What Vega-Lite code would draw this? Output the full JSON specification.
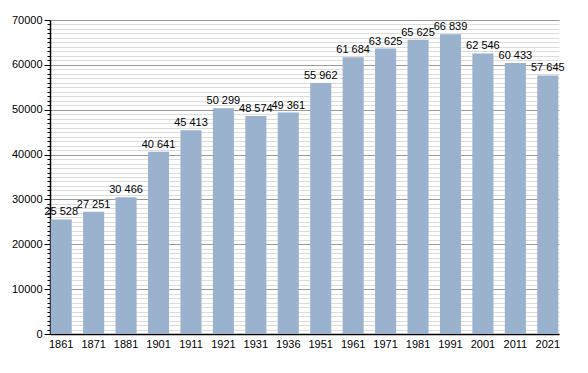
{
  "$schema": "https://vega.github.io/schema/vega-lite/v6.json",
  "width": 509,
  "height": 314,
  "autosize": "none",
  "padding": {"left": 50, "top": 20, "right": 29, "bottom": 39},
  "background": "white",
  "config": {
    "view": {"stroke": null},
    "font": "Liberation Sans",
    "axis": {"labelFont": "Liberation Sans", "labelFontSize": 11, "labelColor": "#000", "domainColor": "#000", "tickColor": "#000"}
  },
  "data": {
    "values": [
      {"year": "1861", "pop": 25528},
      {"year": "1871", "pop": 27251},
      {"year": "1881", "pop": 30466},
      {"year": "1901", "pop": 40641},
      {"year": "1911", "pop": 45413},
      {"year": "1921", "pop": 50299},
      {"year": "1931", "pop": 48574},
      {"year": "1936", "pop": 49361},
      {"year": "1951", "pop": 55962},
      {"year": "1961", "pop": 61684},
      {"year": "1971", "pop": 63625},
      {"year": "1981", "pop": 65625},
      {"year": "1991", "pop": 66839},
      {"year": "2001", "pop": 62546},
      {"year": "2011", "pop": 60433},
      {"year": "2021", "pop": 57645}
    ]
  },
  "transform": [
    {"calculate": "replace(format(datum.pop, ','), ',', ' ')", "as": "label"}
  ],
  "encoding": {
    "x": {
      "field": "year", "type": "ordinal", "sort": null,
      "scale": {"paddingInner": 0.35, "paddingOuter": 0.02},
      "axis": {"title": null, "labelAngle": 0, "ticks": false, "labelPadding": 4, "domainWidth": 1.5}
    }
  },
  "layer": [
    {
      "mark": {"type": "bar", "color": "#9ab2ce"},
      "encoding": {
        "y": {
          "field": "pop", "type": "quantitative",
          "scale": {"domain": [0, 70000], "nice": false},
          "axis": {
            "title": null, "orient": "left",
            "values": [1000,2000,3000,4000,5000,6000,7000,8000,9000,11000,12000,13000,14000,15000,16000,17000,18000,19000,21000,22000,23000,24000,25000,26000,27000,28000,29000,31000,32000,33000,34000,35000,36000,37000,38000,39000,41000,42000,43000,44000,45000,46000,47000,48000,49000,51000,52000,53000,54000,55000,56000,57000,58000,59000,61000,62000,63000,64000,65000,66000,67000,68000,69000],
            "labels": false, "domain": false,
            "grid": true, "gridColor": "#dcdcdc", "gridWidth": 1,
            "tickSize": 3, "tickWidth": 1
          }
        }
      }
    },
    {
      "mark": {"type": "text", "dy": -7, "fontSize": 11, "font": "Liberation Sans", "color": "#000"},
      "encoding": {
        "y": {
          "field": "pop", "type": "quantitative",
          "axis": {
            "title": null, "orient": "left",
            "values": [0,10000,20000,30000,40000,50000,60000,70000],
            "format": "d",
            "grid": true, "gridColor": "#9a9a9a", "gridWidth": 1,
            "tickSize": 6, "tickWidth": 1, "labelPadding": 2, "domainWidth": 1.5
          }
        },
        "text": {"field": "label"}
      }
    }
  ],
  "resolve": {"axis": {"y": "independent"}}
}
